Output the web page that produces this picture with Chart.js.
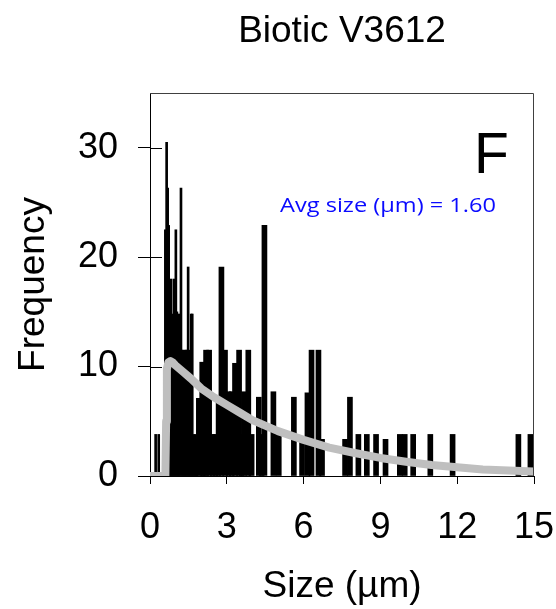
<!DOCTYPE html>
<html lang="en">
<head>
  <meta charset="UTF-8">
  <title>Biotic V3612 – size distribution</title>
  <script src="https://cdn.jsdelivr.net/npm/chart.js"></script>
  <style>
    html, body { margin:0; padding:0; background:#fff; }
    canvas { display:block; }
  </style>
</head>
<body>
<canvas id="sizeChart" width="556" height="609"></canvas>
<script>
// tick labels
const xTicks = [0, 3, 6, 9, 12, 15];
const yTicks = [0, 10, 20, 30];

// narrow bars in the crowded part (size µm, frequency)
const thinSizes = [0.22, 0.34, 0.60, 0.65, 0.69, 0.73, 0.77, 0.81, 0.85, 0.89, 0.93, 0.97,
                   1.01, 1.05, 1.09, 1.13, 1.17, 1.21, 1.25, 1.29, 1.33, 1.37, 1.41, 1.45,
                   1.49, 1.53, 1.57, 1.61, 1.65, 1.69, 1.73, 1.77, 1.81, 1.85];
const thinFreq  = [3.8, 3.8, 22.5, 30.5, 26.3, 22.9, 14.8, 18.0, 14.8, 11.5, 18.0, 14.8,
                   22.5, 15.0, 14.8, 11.5, 14.8, 26.3, 11.5, 11.5, 7.7, 11.5, 11.5, 11.5,
                   19.1, 11.5, 7.7, 14.8, 14.8, 3.8, 3.35, 3.8, 3.35, 7.1];

// wider bars further out
const wideSizes = [1.93, 2.04, 2.10, 2.19, 2.31, 2.45, 2.55, 2.68, 2.79, 2.93, 3.07, 3.19,
                   3.32, 3.48, 3.58, 3.67, 3.84, 3.97, 4.25, 4.36, 4.47, 4.82, 5.03, 5.62,
                   5.94, 6.15, 6.31, 6.58, 6.72, 7.62, 7.81, 8.14, 8.47, 8.83, 9.20, 9.76,
                   9.95, 10.28, 10.95, 11.82, 14.39, 14.86];
const wideFreq  = [7.1, 10.4, 3.6, 11.5, 11.5, 3.8, 3.8, 7.3, 19.1, 11.5, 7.7, 7.7,
                   10.3, 11.5, 3.8, 7.7, 11.5, 3.8, 7.2, 3.8, 22.9, 7.7, 3.8, 7.2,
                   3.35, 7.6, 11.5, 11.5, 3.35, 3.35, 7.2, 3.8, 3.8, 3.8, 3.35, 3.8,
                   3.8, 3.8, 3.8, 3.8, 3.8, 3.8];

// fitted curve
const fitSizes = [0, 0.3, 0.6, 0.63, 0.66, 0.72, 0.8, 0.9, 1.0, 1.3, 1.6, 2.0, 2.5, 3.0, 3.5,
                  4.0, 4.5, 5.0, 6.0, 7.0, 8.0, 9.0, 10.0, 11.0, 12.0, 13.0, 14.0, 15.0];
const fitFreq  = [0, 0, 0, 5.0, 9.8, 10.4, 10.5, 10.35, 10.1, 9.5, 8.9, 8.0, 7.2, 6.5, 5.8,
                  5.1, 4.6, 4.1, 3.3, 2.6, 2.1, 1.65, 1.3, 1.0, 0.8, 0.6, 0.5, 0.4];

const pts = (xs, ys) => xs.map((x, i) => ({ x: x, y: ys[i] }));
const FONT = '"Liberation Sans", Arial, sans-serif';

// labels, box and inner tick halves
const decor = {
  id: 'decor',
  afterDraw(chart) {
    const { ctx, chartArea: a, scales } = chart;
    ctx.save();
    // box top and right
    ctx.strokeStyle = '#404040';
    ctx.lineWidth = 1;
    ctx.beginPath();
    ctx.moveTo(a.left, a.top + 0.5);
    ctx.lineTo(a.right - 0.5, a.top + 0.5);
    ctx.lineTo(a.right - 0.5, a.bottom);
    ctx.stroke();
    // y ticks also reach into the plot
    ctx.strokeStyle = '#000';
    yTicks.forEach(v => {
      const y = Math.round(scales.y.getPixelForValue(v)) + 0.5;
      ctx.beginPath();
      ctx.moveTo(a.left, y);
      ctx.lineTo(a.left + 12, y);
      ctx.stroke();
    });
    // title
    ctx.fillStyle = '#000';
    ctx.textAlign = 'center';
    ctx.textBaseline = 'alphabetic';
    ctx.font = '37px ' + FONT;
    ctx.fillText('Biotic V3612', (a.left + a.right) / 2, 42);
    // panel letter
    ctx.textAlign = 'left';
    ctx.font = '57px ' + FONT;
    ctx.fillText('F', 474, 173);
    // mean size note
    ctx.fillStyle = '#0a0aff';
    ctx.font = '20px "Open Sans", sans-serif';
    const txt = 'Avg size (µm) = 1.60';
    const sx = 216 / ctx.measureText(txt).width;
    ctx.translate(280, 212);
    ctx.scale(sx, 1);
    ctx.fillText(txt, 0, 0);
    ctx.restore();
  }
};

new Chart(document.getElementById('sizeChart'), {
  type: 'bar',
  data: {
    datasets: [
      {
        type: 'line',
        data: pts(fitSizes, fitFreq),
        borderColor: '#bfbfbf',
        borderWidth: 8,
        borderCapStyle: 'round',
        borderJoinStyle: 'round',
        pointRadius: 0,
        tension: 0,
        order: 0
      },
      {
        data: pts(thinSizes, thinFreq),
        backgroundColor: '#000',
        borderWidth: 0,
        barThickness: 2,
        grouped: false,
        order: 1
      },
      {
        data: pts(wideSizes, wideFreq),
        backgroundColor: '#000',
        borderWidth: 0,
        barThickness: 5,
        grouped: false,
        order: 2
      }
    ]
  },
  options: {
    responsive: false,
    animation: false,
    devicePixelRatio: 1,
    layout: { padding: { left: 0, right: 22, top: 93, bottom: 0 } },
    plugins: { legend: { display: false }, tooltip: { enabled: false } },
    scales: {
      x: {
        type: 'linear',
        min: 0, max: 15,
        offset: false,
        afterBuildTicks: s => { s.ticks = xTicks.map(v => ({ value: v })); },
        afterFit: s => { s.height = 133; s.paddingLeft = 0; s.paddingRight = 0; },
        grid: { drawOnChartArea: false, offset: false, tickLength: 8, color: '#000' },
        border: { color: '#000' },
        ticks: { color: '#000', padding: 22, maxRotation: 0, font: { size: 36, family: FONT } },
        title: { display: true, text: 'Size (µm)', color: '#000', padding: { top: 0, bottom: 0 },
                 font: { size: 37, family: FONT } }
      },
      y: {
        min: 0, max: 35,
        afterBuildTicks: s => { s.ticks = yTicks.map(v => ({ value: v })); },
        afterFit: s => { s.width = 150; s.paddingTop = 0; s.paddingBottom = 0; },
        grid: { drawOnChartArea: false, tickLength: 12, color: '#000' },
        border: { color: '#000' },
        ticks: { color: '#000', padding: 20, font: { size: 36, family: FONT } },
        title: { display: true, text: 'Frequency', color: '#000', padding: { top: 12, bottom: 0 },
                 font: { size: 37, family: FONT } }
      }
    }
  },
  plugins: [decor]
});
</script>
</body>
</html>
